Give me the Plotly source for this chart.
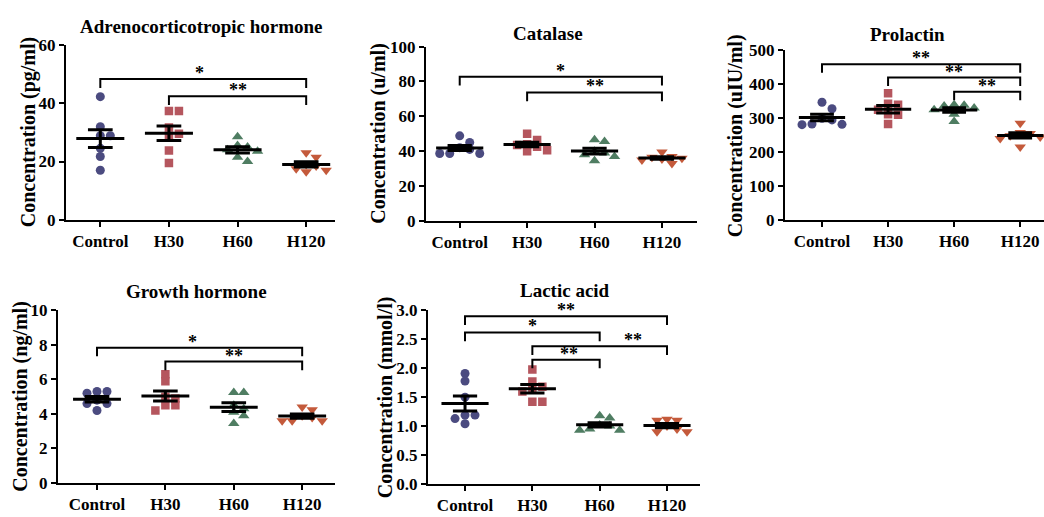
import plotly.graph_objects as go

W, H = 1044, 517
groups = ["Control", "H30", "H60", "H120"]
colors = ["#4B4B80", "#B5565E", "#4F7D62", "#C45A3B"]
symbols = ["circle", "square", "triangle-up", "triangle-down"]
msizes = [9, 8.5, 10, 10]

# ---- data ----
acth = [[42.2, 31.9, 28.8, 28.8, 24.5, 21.7, 17.0],
        [37.3, 37.3, 31.6, 29.5, 28.8, 23.8, 19.5],
        [28.5, 25.5, 25.0, 24.0, 23.5, 21.5, 20.0],
        [23.0, 21.5, 19.0, 18.5, 17.5, 17.0, 16.5]]
catalase = [[48.8, 45.0, 42.0, 41.0, 38.7, 38.7, 38.7],
            [50.0, 46.4, 44.0, 43.5, 42.5, 40.5, 40.0],
            [46.5, 45.5, 40.0, 39.0, 38.0, 37.0, 34.5],
            [39.5, 37.0, 36.5, 36.0, 35.5, 35.0, 33.0]]
prolactin = [[347, 328, 300, 295, 283, 281, 282],
             [374, 343, 340, 325, 312, 310, 283],
             [340, 338, 336, 330, 325, 312, 290],
             [285, 258, 255, 248, 245, 240, 215]]
growth = [[5.3, 5.3, 5.2, 4.8, 4.6, 4.6, 4.2],
          [6.3, 5.9, 5.0, 4.9, 4.5, 4.5, 4.2],
          [5.25, 5.25, 4.5, 4.3, 4.1, 3.9, 3.45],
          [4.4, 4.25, 3.9, 3.8, 3.6, 3.6, 3.6]]
lactic = [[1.91, 1.78, 1.50, 1.19, 1.19, 1.13, 1.04],
          [1.98, 1.77, 1.68, 1.65, 1.60, 1.42, 1.42],
          [1.18, 1.14, 1.02, 1.00, 0.95, 0.93, 0.93],
          [1.12, 1.10, 1.10, 1.00, 0.95, 0.90, 0.90]]

# significance brackets: (from group, to group, height, label, label position)
acth_br = [(0, 3, 48.2, "*", 1.45), (1, 3, 42.3, "**", 2.0)]
catalase_br = [(0, 3, 82.7, "*", 1.5), (1, 3, 73.7, "**", 2.0)]
prolactin_br = [(0, 3, 459, "**", 1.5), (1, 3, 420, "**", 2.0), (2, 3, 378, "**", 2.5)]
growth_br = [(0, 3, 7.84, "*", 1.4), (1, 3, 7.04, "**", 2.0)]
lactic_br = [(0, 3, 2.90, "**", 1.5), (0, 2, 2.62, "*", 1.0),
             (1, 3, 2.38, "**", 2.5), (1, 2, 2.15, "**", 1.55)]

titles = ["Adrenocorticotropic hormone", "Catalase", "Prolactin", "Growth hormone", "Lactic acid"]
ytitles = ["Concentration (pg/ml)", "Concentration (u/ml)", "Concentration (uIU/ml)",
           "Concentration (ng/ml)", "Concentration (mmol/l)"]
yticks_step = [20, 20, 100, 2, 0.5]
ymax = [60, 100, 500, 10, 3.0]

# ---- layout geometry (pixels) ----
panels = [
    dict(x0=66, x1=335, y0=37, y1=219, xr=(-0.5, 3.42), tx=201, ty=18, ax=28),
    dict(x0=426, x1=697, y0=39, y1=220, xr=(-0.5, 3.52), tx=548, ty=25, ax=379),
    dict(x0=785, x1=1044, y0=43, y1=219, xr=(-0.56, 3.36), tx=907, ty=26, ax=735),
    dict(x0=58, x1=335, y0=313, y1=492, xr=(-0.57, 3.48), tx=196, ty=293, ax=21),
    dict(x0=428, x1=700, y0=313, y1=493, xr=(-0.55, 3.49), tx=565, ty=292, ax=385),
]
datasets = [acth, catalase, prolactin, growth, lactic]
brackets = [acth_br, catalase_br, prolactin_br, growth_br, lactic_br]

FONT = "Liberation Serif, Times New Roman, serif"


def swarm(vals, ppu, ppc, diam=7.0, step=10.0):
    placed = []
    res = [0.0] * len(vals)
    order = sorted(range(len(vals)), key=lambda i: -vals[i])
    for i in order:
        y = vals[i] * ppu
        x = 0.0
        for k in [0, 1, -1, 2, -2, 3, -3]:
            x = k * step
            if all((x - px) ** 2 + (y - py) ** 2 >= diam ** 2 for px, py in placed):
                break
        placed.append((x, y))
        res[i] = x / ppc
    return res


fig = go.Figure()
annotations = []
for p, (pan, data, brs) in enumerate(zip(panels, datasets, brackets)):
    xa = "x" if p == 0 else f"x{p+1}"
    ya = "y" if p == 0 else f"y{p+1}"
    ppu = (pan["y1"] - pan["y0"]) / ymax[p]
    ppc = (pan["x1"] - pan["x0"]) / (pan["xr"][1] - pan["xr"][0])
    for g, vals in enumerate(data):
        offs = swarm(vals, ppu, ppc)
        fig.add_trace(go.Scatter(
            x=[g + o for o in offs], y=vals, mode="markers", xaxis=xa, yaxis=ya,
            marker=dict(symbol=symbols[g], size=msizes[g], color=colors[g], line=dict(width=0)),
            showlegend=False, hoverinfo="y"))
    for g, vals in enumerate(data):
        n = len(vals)
        m = sum(vals) / n
        sd = (sum((v - m) ** 2 for v in vals) / (n - 1)) ** 0.5
        se = sd / n ** 0.5
        hw, cw = 0.35, 0.18
        xs = [g - hw, g + hw, None, g - cw, g + cw, None, g - cw, g + cw, None, g, g]
        ys = [m, m, None, m + se, m + se, None, m - se, m - se, None, m - se, m + se]
        fig.add_trace(go.Scatter(x=xs, y=ys, mode="lines", xaxis=xa, yaxis=ya,
                                 line=dict(color="black", width=3), showlegend=False,
                                 hoverinfo="skip"))
    tick = 0.05 * ymax[p]
    for (a, b, h, lab, lx) in brs:
        fig.add_trace(go.Scatter(x=[a, a, b, b], y=[h - tick, h, h, h - tick], mode="lines",
                                 xaxis=xa, yaxis=ya, line=dict(color="black", width=2),
                                 showlegend=False, hoverinfo="skip", cliponaxis=False))
        annotations.append(dict(x=lx, y=h, xref=xa, yref=ya, text=lab, showarrow=False,
                                yanchor="bottom", yshift=-6,
                                font=dict(family=FONT, size=18, color="black", weight="bold")))
    # titles
    annotations.append(dict(x=pan["tx"] / W, y=1 - pan["ty"] / H, xref="paper", yref="paper",
                            text=titles[p], showarrow=False, xanchor="center", yanchor="middle",
                            font=dict(family=FONT, size=19, color="black", weight="bold")))
    annotations.append(dict(x=pan["ax"] / W, y=1 - (pan["y0"] + pan["y1"]) / 2 / H,
                            xref="paper", yref="paper", text=ytitles[p], showarrow=False,
                            textangle=-90, xanchor="center", yanchor="middle",
                            font=dict(family=FONT, size=20, color="black", weight="bold")))
    tvals = []
    v = 0.0
    while v <= ymax[p] + 1e-9:
        tvals.append(round(v, 3))
        v += yticks_step[p]
    ttext = [f"{t:.1f}" if p == 4 else f"{t:g}" for t in tvals]
    axis_common = dict(showgrid=False, zeroline=False, showline=True, linecolor="black",
                       linewidth=2, ticks="outside", ticklen=5, tickwidth=2, tickcolor="black",
                       tickfont=dict(family=FONT, size=17, color="black", weight="bold"))
    fig.update_layout(**{
        ("xaxis" if p == 0 else f"xaxis{p+1}"): dict(
            domain=[pan["x0"] / W, pan["x1"] / W], range=list(pan["xr"]), anchor=ya,
            tickmode="array", tickvals=[0, 1, 2, 3], ticktext=groups, **axis_common),
        ("yaxis" if p == 0 else f"yaxis{p+1}"): dict(
            domain=[1 - pan["y1"] / H, 1 - pan["y0"] / H], range=[0, ymax[p]], anchor=xa,
            tickmode="array", tickvals=tvals, ticktext=ttext, **axis_common),
    })

fig.update_layout(width=W, height=H, margin=dict(l=0, r=0, t=0, b=0),
                  paper_bgcolor="white", plot_bgcolor="white", annotations=annotations,
                  showlegend=False)
fig.write_html("out.html")
